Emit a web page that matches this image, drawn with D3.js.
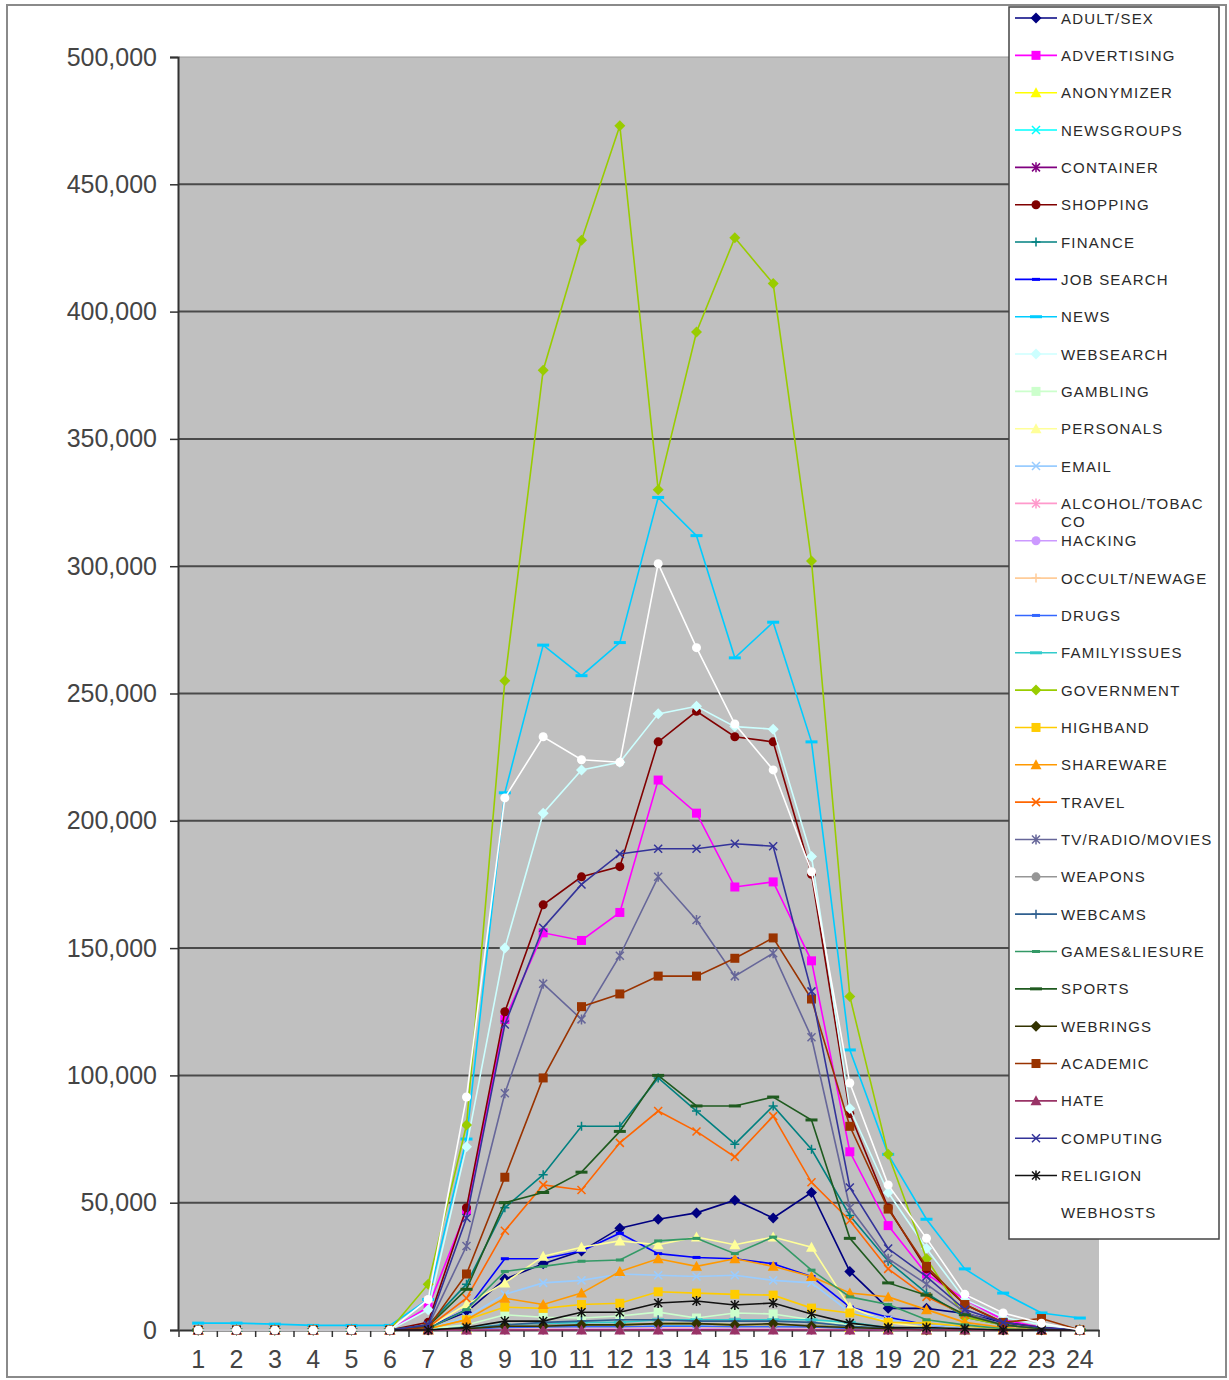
<!DOCTYPE html>
<html>
<head>
<meta charset="utf-8">
<script src="https://cdn.jsdelivr.net/npm/d3@7"></script>
<style>
  body { margin: 0; background: #fff; }
  svg { display: block; font-family: Arial, "Liberation Sans", sans-serif; }
</style>
</head>
<body>
<svg width="1229" height="1380"></svg>
<script>
const hours = [1,2,3,4,5,6,7,8,9,10,11,12,13,14,15,16,17,18,19,20,21,22,23,24];
const yTicks = [0,50000,100000,150000,200000,250000,300000,350000,400000,450000,500000];

const categories = ["ADULT/SEX","ADVERTISING","ANONYMIZER","NEWSGROUPS","CONTAINER","SHOPPING",
  "FINANCE","JOB SEARCH","NEWS","WEBSEARCH","GAMBLING","PERSONALS","EMAIL","ALCOHOL/TOBACCO",
  "HACKING","OCCULT/NEWAGE","DRUGS","FAMILYISSUES","GOVERNMENT","HIGHBAND","SHAREWARE","TRAVEL",
  "TV/RADIO/MOVIES","WEAPONS","WEBCAMS","GAMES&LIESURE","SPORTS","WEBRINGS","ACADEMIC","HATE",
  "COMPUTING","RELIGION","WEBHOSTS"];

// hits per hour
const adultSex     = [0,0,0,0,0,0,1000,7000,20000,26000,31000,40000,43500,46000,51000,44000,54000,23000,8500,8500,6500,3000,1000,0];
const advertising  = [0,0,0,0,0,0,9000,47000,122000,156000,153000,164000,216000,203000,174000,176000,145000,70000,41000,22000,12000,4000,1000,0];
const anonymizer   = [0,0,0,0,0,0,0,500,1500,1500,2000,2000,2500,2500,2000,2000,2000,1000,500,0,0,0,0,0];
const newsgroups   = [0,0,0,0,0,0,0,500,1000,1000,1000,1000,1500,1500,1000,1000,1000,500,0,0,0,0,0,0];
const container    = [0,0,0,0,0,0,0,0,200,200,300,300,300,300,300,300,200,100,0,0,0,0,0,0];
const shopping     = [0,0,0,0,0,0,3000,48000,125000,167000,178000,182000,231000,243000,233000,231000,179000,85000,48000,24000,10000,3000,1000,0];
const finance      = [0,0,0,0,0,0,2000,18000,48000,61000,80000,80000,99000,86000,73000,88000,71000,45000,27000,14500,5000,2000,500,0];
const jobSearch    = [0,0,0,0,0,0,1000,8000,28000,28000,31000,38000,30000,28500,28000,26000,21000,9000,5000,2000,1000,500,0,0];
const news         = [2700,2700,2300,1800,1800,1800,12000,75000,211000,269000,257000,270000,327000,312000,264000,278000,231000,110000,69000,43500,24000,14500,6700,4700];
const websearch    = [0,0,0,0,0,0,8000,72000,150000,203000,220000,223000,242000,245000,237000,236000,186000,87000,54000,32000,12000,5000,2000,0];
const gambling     = [0,0,0,0,0,0,500,2000,6000,5000,4700,5500,7000,4700,6700,6300,4000,2000,1000,500,0,0,0,0];
const personals    = [0,0,0,0,0,0,1000,10000,18500,29000,32500,35000,33500,36500,33500,36500,32500,9000,3000,1000,500,0,0,0];
const email        = [0,0,0,0,0,0,500,5000,14000,18500,19500,22000,21500,21000,21500,19500,18500,7000,4000,2000,1000,500,0,0];
const alcohol      = [0,0,0,0,0,0,0,200,500,500,600,600,700,700,600,600,500,300,100,0,0,0,0,0];
const hacking      = [0,0,0,0,0,0,0,200,600,700,800,800,900,900,800,800,700,400,200,100,0,0,0,0];
const occult       = [0,0,0,0,0,0,0,300,800,900,1000,1000,1200,1200,1000,1000,900,500,200,100,0,0,0,0];
const drugs        = [0,0,0,0,0,0,0,300,1000,1200,1300,1300,1500,1500,1300,1300,1200,600,300,100,0,0,0,0];
const familyIssues = [0,0,0,0,0,0,0,1000,2000,2500,3000,3000,4000,4000,4000,4000,4000,3000,1000,500,0,0,0,0];
const government   = [0,0,0,0,0,0,18000,80500,255000,377000,428000,473000,330000,392000,429000,411000,302000,131000,69000,28000,5000,2000,500,0];
const highband     = [0,0,0,0,0,0,500,4000,9000,8500,10000,10500,15000,14500,14000,13700,8600,6700,3000,2700,1500,500,0,0];
const shareware    = [0,0,0,0,0,0,500,4000,12500,10000,14500,23000,28000,25000,28000,25000,21000,14500,13000,8000,3000,1000,0,0];
const travel       = [0,0,0,0,0,0,1000,12500,39000,57000,55000,73500,86000,78000,68000,84000,58000,43000,24000,13000,6000,2000,500,0];
const tvRadio      = [0,0,0,0,0,0,1500,33000,93000,136000,122000,147000,178000,161000,139000,148000,115000,48000,28000,18000,7000,2000,500,0];
const weapons      = [0,0,0,0,0,0,0,500,1500,2000,2000,2000,2500,2500,2000,2000,2000,1000,500,0,0,0,0,0];
const webcams      = [0,0,0,0,0,0,0,500,2000,3000,3500,4000,4000,3500,3500,3500,3000,1500,800,500,0,0,0,0];
const gamesLeisure = [0,0,0,0,0,0,500,8000,23000,25000,27000,27500,35000,36000,30000,36500,23500,13000,10000,4000,2000,500,0,0];
const sports       = [0,0,0,0,0,0,1500,16000,50000,54000,62000,78000,100000,88000,88000,91500,82500,36000,18500,13700,6000,2000,500,0];
const webrings     = [0,0,0,0,0,0,0,500,1500,1500,2000,2000,2500,2500,2000,2500,1500,1000,500,0,0,0,0,0];
const academic     = [0,0,0,0,0,0,1000,22000,60000,99000,127000,132000,139000,139000,146000,154000,130000,80000,47500,25000,10000,3000,4500,0];
const hate         = [0,0,0,0,0,0,0,0,0,0,0,0,0,0,0,0,0,0,0,0,0,0,0,0];
const computing    = [0,0,0,0,0,0,2000,44000,120000,158000,175000,187000,189000,189000,191000,190000,133000,56000,32000,21000,8000,3000,1000,0];
const religion     = [0,0,0,0,0,0,0,1000,3500,3500,7000,7000,10600,11400,9800,10600,6300,2700,1000,1000,500,0,0,0];
const webhosts     = [0,0,0,0,0,0,12000,91500,209000,233000,224000,223000,301000,268000,238000,220000,180000,97000,57000,36000,14000,6700,2700,0];

const seriesValues = [adultSex, advertising, anonymizer, newsgroups, container, shopping, finance,
  jobSearch, news, websearch, gambling, personals, email, alcohol, hacking, occult, drugs,
  familyIssues, government, highband, shareware, travel, tvRadio, weapons, webcams, gamesLeisure,
  sports, webrings, academic, hate, computing, religion, webhosts];

// styling (old spreadsheet default palette / marker cycle)
const seriesColors = ["#000080","#FF00FF","#FFFF00","#00FFFF","#800080","#800000","#008080","#0000FF",
  "#00CCFF","#CCFFFF","#CCFFCC","#FFFF99","#99CCFF","#FF99CC","#CC99FF","#FFCC99","#3366FF","#33CCCC",
  "#99CC00","#FFCC00","#FF9900","#FF6600","#666699","#969696","#2f5f8f","#339966","#1f5a1f","#333300",
  "#993300","#993366","#333399","#111111","#FFFFFF"];
const markerCycle = ["diamond","square","triangle","x","star","circle","plus","dash","longdash"];

const svg = d3.select("svg");

const x = d3.scaleBand().domain(hours).range([179, 1099]).paddingInner(0).paddingOuter(0);
const y = d3.scaleLinear().domain([0, 500000]).range([1330, 57]);
const cx = h => x(h) + x.bandwidth() / 2;

// outer frame
svg.append("rect").attr("x", 7).attr("y", 5).attr("width", 1219).attr("height", 1372)
  .attr("fill", "#fff").attr("stroke", "#8a8a8a").attr("stroke-width", 2);

// plot area
svg.append("rect").attr("x", 179).attr("y", 57).attr("width", 920).attr("height", 1273)
  .attr("fill", "#C0C0C0");

// gridlines
svg.append("g").selectAll("line").data(yTicks.filter(d => d > 0)).join("line")
  .attr("x1", 179).attr("x2", 1099)
  .attr("y1", d => y(d)).attr("y2", d => y(d))
  .attr("stroke", d => d === 500000 ? "#9a9a9a" : "#4a4a4a")
  .attr("stroke-width", d => d === 500000 ? 1 : 2);

// y axis
const yAxis = svg.append("g").attr("transform", "translate(178,0)")
  .call(d3.axisLeft(y).tickValues(yTicks).tickFormat(d3.format(",")).tickSize(8).tickPadding(13));
yAxis.select(".domain").attr("stroke", "#333").attr("stroke-width", 2);
yAxis.selectAll(".tick line").attr("stroke", "#333").attr("stroke-width", 1.5);
yAxis.selectAll("text").attr("font-size", 25).attr("fill", "#444")
  .attr("font-family", "Arial, 'Liberation Sans', sans-serif");

// x axis
const xAxis = svg.append("g").attr("transform", "translate(0,1330)")
  .call(d3.axisBottom(x).tickSize(0).tickPadding(20));
xAxis.select(".domain").attr("stroke", "#333").attr("stroke-width", 2);
xAxis.selectAll("text").attr("font-size", 25).attr("fill", "#444")
  .attr("font-family", "Arial, 'Liberation Sans', sans-serif");
xAxis.append("g").selectAll("line").data(d3.range(hours.length + 1)).join("line")
  .attr("x1", i => 179 + i * x.step()).attr("x2", i => 179 + i * x.step())
  .attr("y1", 0).attr("y2", 7).attr("stroke", "#333").attr("stroke-width", 1.5);

function drawMarker(g, type, color) {
  if (type === "diamond") {
    g.append("path").attr("d", "M0,-5.5L5.5,0L0,5.5L-5.5,0Z").attr("fill", color);
  } else if (type === "square") {
    g.append("rect").attr("x", -4.5).attr("y", -4.5).attr("width", 9).attr("height", 9).attr("fill", color);
  } else if (type === "triangle") {
    g.append("path").attr("d", "M0,-5.5L5.5,4.5L-5.5,4.5Z").attr("fill", color);
  } else if (type === "circle") {
    g.append("circle").attr("r", 4.5).attr("fill", color);
  } else if (type === "x") {
    g.append("path").attr("d", "M-4,-4L4,4M-4,4L4,-4").attr("stroke", color).attr("stroke-width", 1.5);
  } else if (type === "star") {
    g.append("path").attr("d", "M-4,-4L4,4M-4,4L4,-4M0,-5V5").attr("stroke", color).attr("stroke-width", 1.5);
  } else if (type === "plus") {
    g.append("path").attr("d", "M-4.5,0H4.5M0,-4.5V4.5").attr("stroke", color).attr("stroke-width", 1.5);
  } else if (type === "dash") {
    g.append("path").attr("d", "M-4,0H4").attr("stroke", color).attr("stroke-width", 3);
  } else if (type === "longdash") {
    g.append("path").attr("d", "M-6,0H6").attr("stroke", color).attr("stroke-width", 3);
  }
}

const line = d3.line().x((d, i) => cx(hours[i])).y(d => y(d));

const plot = svg.append("g");
seriesValues.forEach((vals, s) => {
  const color = seriesColors[s];
  const mtype = markerCycle[s % markerCycle.length];
  const g = plot.append("g");
  g.append("path").datum(vals).attr("d", line)
    .attr("fill", "none").attr("stroke", color).attr("stroke-width", 1.6);
  g.selectAll("g").data(vals).join("g")
    .attr("transform", (d, i) => `translate(${cx(hours[i])},${y(d)})`)
    .each(function () { drawMarker(d3.select(this), mtype, color); });
});

// legend
const legend = svg.append("g");
legend.append("rect").attr("x", 1009).attr("y", 7).attr("width", 210).attr("height", 1232)
  .attr("fill", "#fff").attr("stroke", "#444").attr("stroke-width", 1.5);
const step = 37.34;
categories.forEach((name, i) => {
  const yc = 18 + i * step;
  const g = legend.append("g").attr("transform", `translate(0,${yc})`);
  g.append("line").attr("x1", 1015).attr("x2", 1057).attr("y1", 0).attr("y2", 0)
    .attr("stroke", seriesColors[i]).attr("stroke-width", 1.6);
  const m = g.append("g").attr("transform", "translate(1036,0)");
  drawMarker(m, markerCycle[i % markerCycle.length], seriesColors[i]);
  const t = g.append("text").attr("x", 1061).attr("y", 5.5)
    .attr("font-size", 15).attr("letter-spacing", 1.2).attr("fill", "#2a2a2a").text(name);
  if (t.node().getComputedTextLength() > 158) {
    let k = name.length - 1;
    t.text(name.slice(0, k));
    while (k > 1 && t.node().getComputedTextLength() > 150) { k--; t.text(name.slice(0, k)); }
    t.text(null);
    t.append("tspan").attr("x", 1061).text(name.slice(0, k));
    t.append("tspan").attr("x", 1061).attr("dy", 18).text(name.slice(k));
  }
});
</script>
</body>
</html>
